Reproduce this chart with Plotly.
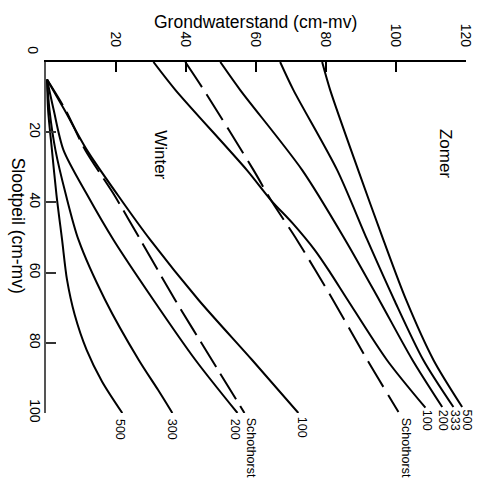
import plotly.graph_objects as go

# ---- data (Slootpeil S in cm-mv, Grondwaterstand G in cm-mv) ----
w500_s = [5, 13.7, 25.1, 37.9, 50.7, 62, 72, 82, 91, 100]
w500_g = [0.3, 0.6, 1.7, 3.0, 4.6, 6.0, 8.2, 11.6, 16.0, 21.8]
w300_s = [5, 13.7, 25.1, 37.9, 50.7, 67.8, 84.9, 93.4, 100]
w300_g = [0.3, 1.0, 2.7, 5.7, 9.3, 16.9, 26.5, 32.0, 36.1]
w200_s = [5, 13.7, 25.1, 37.9, 50.7, 67.8, 84.9, 100]
w200_g = [0.3, 2.2, 5.0, 11.8, 19.3, 30.7, 42.7, 54.7]
w100_s = [5, 13.7, 25.1, 37.9, 50.7, 67.8, 84.9, 100]
w100_g = [0.3, 5.3, 11.7, 20.5, 29.8, 43.6, 58.9, 72.1]
wsch_s = [5, 13.7, 25.1, 37.9, 50.7, 67.8, 84.9, 100]
wsch_g = [0.3, 5.6, 11.2, 19.5, 27.0, 36.9, 47.4, 56.7]

z500_s = [0, 8, 30.8, 50.7, 67.8, 84.9, 98.3]
z500_g = [78.9, 81.2, 89.2, 96.4, 102.9, 110.7, 118.9]
z333_s = [0, 8, 30.8, 50.7, 67.8, 84.9, 98.3]
z333_g = [66.9, 70.7, 83.2, 91.8, 99.5, 107.8, 116.4]
z200_s = [0, 8, 30.8, 50.7, 67.8, 84.9, 98.3]
z200_g = [49.8, 55.5, 73.2, 85.5, 95.2, 104.7, 113.2]
z100_s = [0, 8, 30.8, 39.4, 46, 53.6, 60, 67.8, 84.9, 98.5]
z100_g = [30.7, 37.0, 57.4, 64.3, 70.5, 76.8, 81.2, 86.2, 97.4, 108.4]
zsch_s = [0, 8, 30.8, 39.4, 50.7, 67.8, 84.9, 99.7]
zsch_g = [39.8, 45.1, 59.3, 64.3, 71.7, 82.0, 91.8, 100.7]

x_ticks = [20, 40, 60, 80, 100, 120]
y_ticks = [20, 40, 60, 80, 100]

# curve labels: (text, Grondwaterstand position, Slootpeil position)
w_labels = [("500", 21.2, 104.6), ("300", 36.1, 104.6), ("200", 54.1, 104.6),
            ("Schothorst", 58.4, 110.0), ("100", 73.2, 104.0)]
z_labels = [("500", 120.4, 102.0), ("333", 116.9, 102.0), ("200", 113.5, 102.0),
            ("100", 108.9, 102.0), ("Schothorst", 102.7, 110.0)]

X_MAX, Y_MAX = 120, 100
FONT = "Liberation Sans"

fig = go.Figure()

curves = [
    (w500_g, w500_s, "solid"), (w300_g, w300_s, "solid"), (w200_g, w200_s, "solid"),
    (w100_g, w100_s, "solid"), (wsch_g, wsch_s, "30px,8px"),
    (z500_g, z500_s, "solid"), (z333_g, z333_s, "solid"), (z200_g, z200_s, "solid"),
    (z100_g, z100_s, "solid"), (zsch_g, zsch_s, "30px,9px"),
]
for g, s, dash in curves:
    fig.add_trace(go.Scatter(x=g, y=s, mode="lines",
                             line=dict(color="black", width=2, dash=dash, shape="spline", smoothing=0.8),
                             showlegend=False, hoverinfo="skip"))

for txt, gx, sy in w_labels + z_labels:
    fig.add_annotation(xref="paper", yref="paper", x=gx / X_MAX, y=1 - sy / Y_MAX,
                       text=txt, showarrow=False, textangle=90,
                       xanchor="center", yanchor="middle",
                       font=dict(family=FONT, size=12.5, color="black"))

fig.add_annotation(x=32.9, y=26.3, text="Winter", showarrow=False, textangle=90,
                   font=dict(family=FONT, size=17, color="black"))
fig.add_annotation(x=114.1, y=26.0, text="Zomer", showarrow=False, textangle=90,
                   font=dict(family=FONT, size=17, color="black"))

fig.add_annotation(xref="paper", yref="paper", x=0.498, y=1.114, text="Grondwaterstand (cm-mv)",
                   showarrow=False, xanchor="center", yanchor="middle",
                   font=dict(family=FONT, size=17.5, color="black"))
fig.add_annotation(xref="paper", yref="paper", x=-0.066, y=0.533, text="Slootpeil (cm-mv)",
                   showarrow=False, textangle=90, xanchor="center", yanchor="middle",
                   font=dict(family=FONT, size=17.5, color="black"))
fig.add_annotation(xref="paper", yref="paper", x=-0.033, y=1.033, text="0",
                   showarrow=False, textangle=90, xanchor="center", yanchor="middle",
                   font=dict(family=FONT, size=14, color="black"))

fig.update_xaxes(range=[0, X_MAX], side="top", showgrid=False, zeroline=False,
                 showline=True, linecolor="black", linewidth=2,
                 ticks="inside", ticklen=10, tickwidth=2, tickcolor="black",
                 tickvals=x_ticks, ticktext=[str(v) for v in x_ticks], tickangle=90,
                 tickfont=dict(family=FONT, size=14, color="black"), ticklabelstandoff=8)
fig.update_yaxes(range=[Y_MAX, 0], showgrid=False, zeroline=False,
                 showline=True, linecolor="#555555", linewidth=1.5,
                 ticks="inside", ticklen=10, tickwidth=2, tickcolor="#333333",
                 tickvals=y_ticks, ticktext=[str(v) for v in y_ticks], tickangle=90,
                 tickfont=dict(family=FONT, size=14, color="black"), ticklabelstandoff=-3)

fig.update_layout(width=486, height=478, margin=dict(l=46, r=20, t=62, b=65, autoexpand=False),
                  paper_bgcolor="white", plot_bgcolor="white", showlegend=False)

fig.write_html("out.html")
